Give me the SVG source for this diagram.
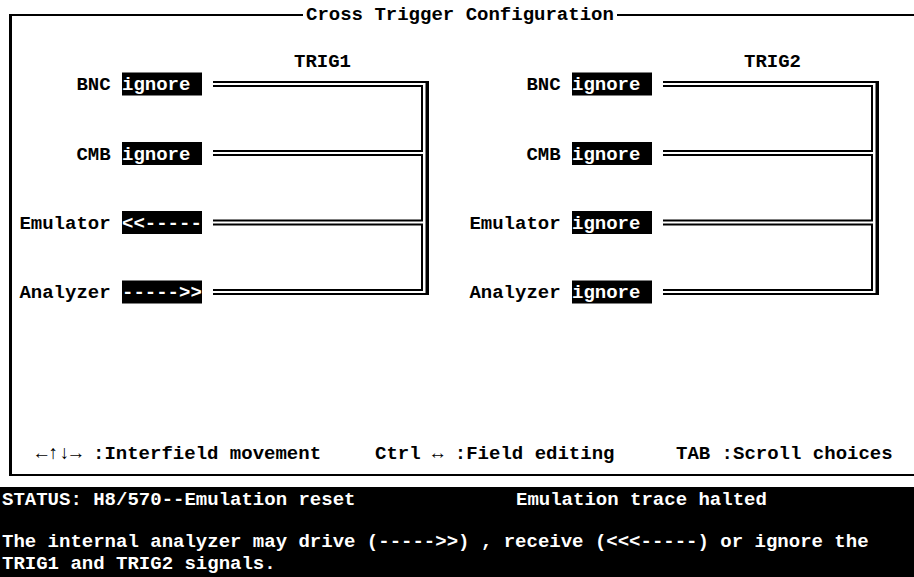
<svg xmlns="http://www.w3.org/2000/svg" width="914" height="577" viewBox="0 0 914 577">
<style>
.t{font-family:"Liberation Mono","DejaVu Sans Mono",monospace;font-size:19px;font-weight:bold;fill:#000}
.w{fill:#fff}
.box{fill:#000}
.ln{stroke:#000;stroke-width:2;fill:none;stroke-linejoin:miter}
.fr{stroke:#000;fill:none}
.end{text-anchor:end}
</style>
<rect x="0" y="0" width="914" height="577" fill="#fff"/>
<g id="frame">
<path class="fr" stroke-width="2" d="M10.5,15 H303 M617,15 H914"/>
<path class="fr" stroke-width="3" d="M10.5,14 V475"/>
<path class="fr" stroke-width="2" d="M9,475 H914"/>
<text class="t" x="306" y="20">Cross Trigger Configuration</text>
</g>
<g id="trig1-title"><text class="t" x="294" y="67">TRIG1</text></g>
<g id="trig2-title"><text class="t" x="744" y="67">TRIG2</text></g>
<g id="trig1-bnc">
<text class="t end" x="110.6" y="90">BNC</text>
<rect class="box" x="122" y="72.5" width="80" height="23"/>
<text class="t w" x="122" y="90">ignore</text>
</g>
<g id="trig1-cmb">
<text class="t end" x="110.6" y="159.5">CMB</text>
<rect class="box" x="122" y="142" width="80" height="23"/>
<text class="t w" x="122" y="159.5">ignore</text>
</g>
<g id="trig1-emulator">
<text class="t end" x="110.6" y="228.5">Emulator</text>
<rect class="box" x="122" y="211" width="80" height="23"/>
<text class="t w" x="122" y="228.5">&lt;&lt;-----</text>
</g>
<g id="trig1-analyzer">
<text class="t end" x="110.6" y="298">Analyzer</text>
<rect class="box" x="122" y="280.5" width="80" height="23"/>
<text class="t w" x="122" y="298">-----&gt;&gt;</text>
</g>
<g id="trig2-bnc">
<text class="t end" x="560.6" y="90">BNC</text>
<rect class="box" x="572" y="72.5" width="80" height="23"/>
<text class="t w" x="572" y="90">ignore</text>
</g>
<g id="trig2-cmb">
<text class="t end" x="560.6" y="159.5">CMB</text>
<rect class="box" x="572" y="142" width="80" height="23"/>
<text class="t w" x="572" y="159.5">ignore</text>
</g>
<g id="trig2-emulator">
<text class="t end" x="560.6" y="228.5">Emulator</text>
<rect class="box" x="572" y="211" width="80" height="23"/>
<text class="t w" x="572" y="228.5">ignore</text>
</g>
<g id="trig2-analyzer">
<text class="t end" x="560.6" y="298">Analyzer</text>
<rect class="box" x="572" y="280.5" width="80" height="23"/>
<text class="t w" x="572" y="298">ignore</text>
</g>
<g id="connectors">
<path class="ln" d="M213,82 H428 V294 H213"/>
<path class="ln" d="M213,86 H422 V151 H213 M213,155 H422 V220.5 H213 M213,224.5 H422 V290 H213"/>
<path class="ln" stroke-width="1" d="M427,83 V293" style="stroke-width:3"/>
<path class="ln" d="M663,82 H878 V294 H663"/>
<path class="ln" d="M663,86 H872 V151 H663 M663,155 H872 V220.5 H663 M663,224.5 H872 V290 H663"/>
<path class="ln" d="M877,83 V293" style="stroke-width:3"/>
</g>
<g id="help">
<text class="t" x="36" y="459">←↑↓→ :Interfield movement</text>
<text class="t" x="375" y="459">Ctrl ↔ :Field editing</text>
<text class="t" x="676" y="459">TAB :Scroll choices</text>
</g>
<g id="status">
<rect x="0" y="487" width="914" height="90" fill="#000"/>
<text class="t w" x="2" y="505">STATUS: H8/570--Emulation reset</text>
<text class="t w" x="516" y="505">Emulation trace halted</text>
<text class="t w" x="2" y="547">The internal analyzer may drive (-----&gt;&gt;) , receive (&lt;&lt;&lt;-----) or ignore the</text>
<text class="t w" x="2" y="569">TRIG1 and TRIG2 signals.</text>
</g>
</svg>
